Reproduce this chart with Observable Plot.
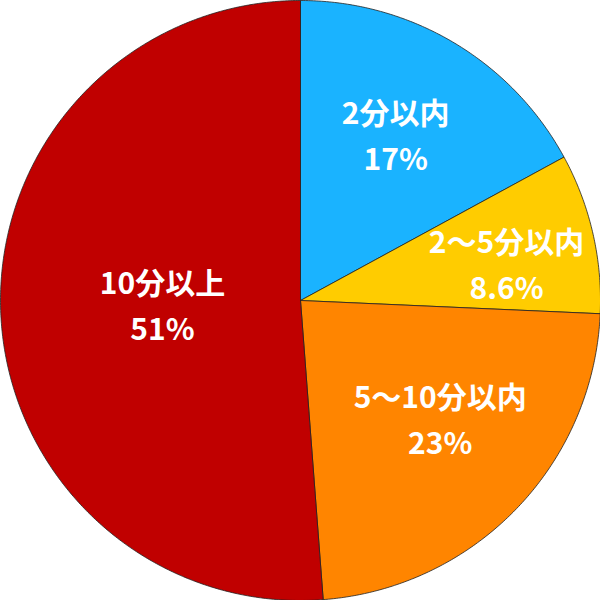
<!DOCTYPE html>
<html><head><meta charset="utf-8">
<script src="https://cdn.jsdelivr.net/npm/d3@7"></script>
<script src="https://cdn.jsdelivr.net/npm/@observablehq/plot@0.6"></script>
<style>body{margin:0;background:#fff}</style>
</head><body><div id="chart"></div>
<script>
const categories = ["2分以内", "2〜5分以内", "5〜10分以内", "10分以上"];
const values = [17, 8.6, 23, 51];
const valueLabels = ["17%", "8.6%", "23%", "51%"];
const colors = ["#1ab3ff", "#ffcc00", "#ff8500", "#c00000"];
// label placement (layout only): radius fraction and angular shift in degrees
const labelRadius = [0.65, 0.70, 0.60, 0.46];
const labelShift = [-1.5, 1.8, -5, 2.2];

const total = d3.sum(values);
const slices = [];
let cum = 0;
values.forEach((v, i) => {
  const a0 = cum / total * 2 * Math.PI;
  cum += v;
  const a1 = cum / total * 2 * Math.PI;
  slices.push({name: categories[i], a0, a1, i});
});

const pts = [];
for (const s of slices) {
  pts.push({name: s.name, x: 0, y: 0});
  const n = Math.max(2, Math.ceil((s.a1 - s.a0) / (Math.PI / 360)));
  for (let k = 0; k <= n; k++) {
    const a = s.a0 + (s.a1 - s.a0) * k / n;
    pts.push({name: s.name, x: Math.sin(a), y: Math.cos(a)});
  }
  pts.push({name: s.name, x: 0, y: 0});
}

const labels = slices.map(s => {
  const m = (s.a0 + s.a1) / 2 + labelShift[s.i] * Math.PI / 180, r = labelRadius[s.i];
  return {x: r * Math.sin(m), y: r * Math.cos(m), text: s.name + "\n" + valueLabels[s.i]};
});

const chart = Plot.plot({
  width: 600, height: 600, margin: 0,
  x: {domain: [-1, 1], axis: null},
  y: {domain: [-1, 1], axis: null},
  color: {domain: categories, range: colors},
  style: {fontFamily: "'Noto Sans CJK JP', sans-serif", background: "#fff"},
  marks: [
    Plot.line(pts, {x: "x", y: "y", z: "name", fill: "name", stroke: "#222", strokeWidth: 0.8, strokeLinejoin: "round"}),
    Plot.text(labels, {x: "x", y: "y", dy: 2, text: "text", fill: "white", fontSize: 30, fontWeight: "bold", lineHeight: 1.53})
  ]
});
document.getElementById("chart").append(chart);
</script></body></html>
